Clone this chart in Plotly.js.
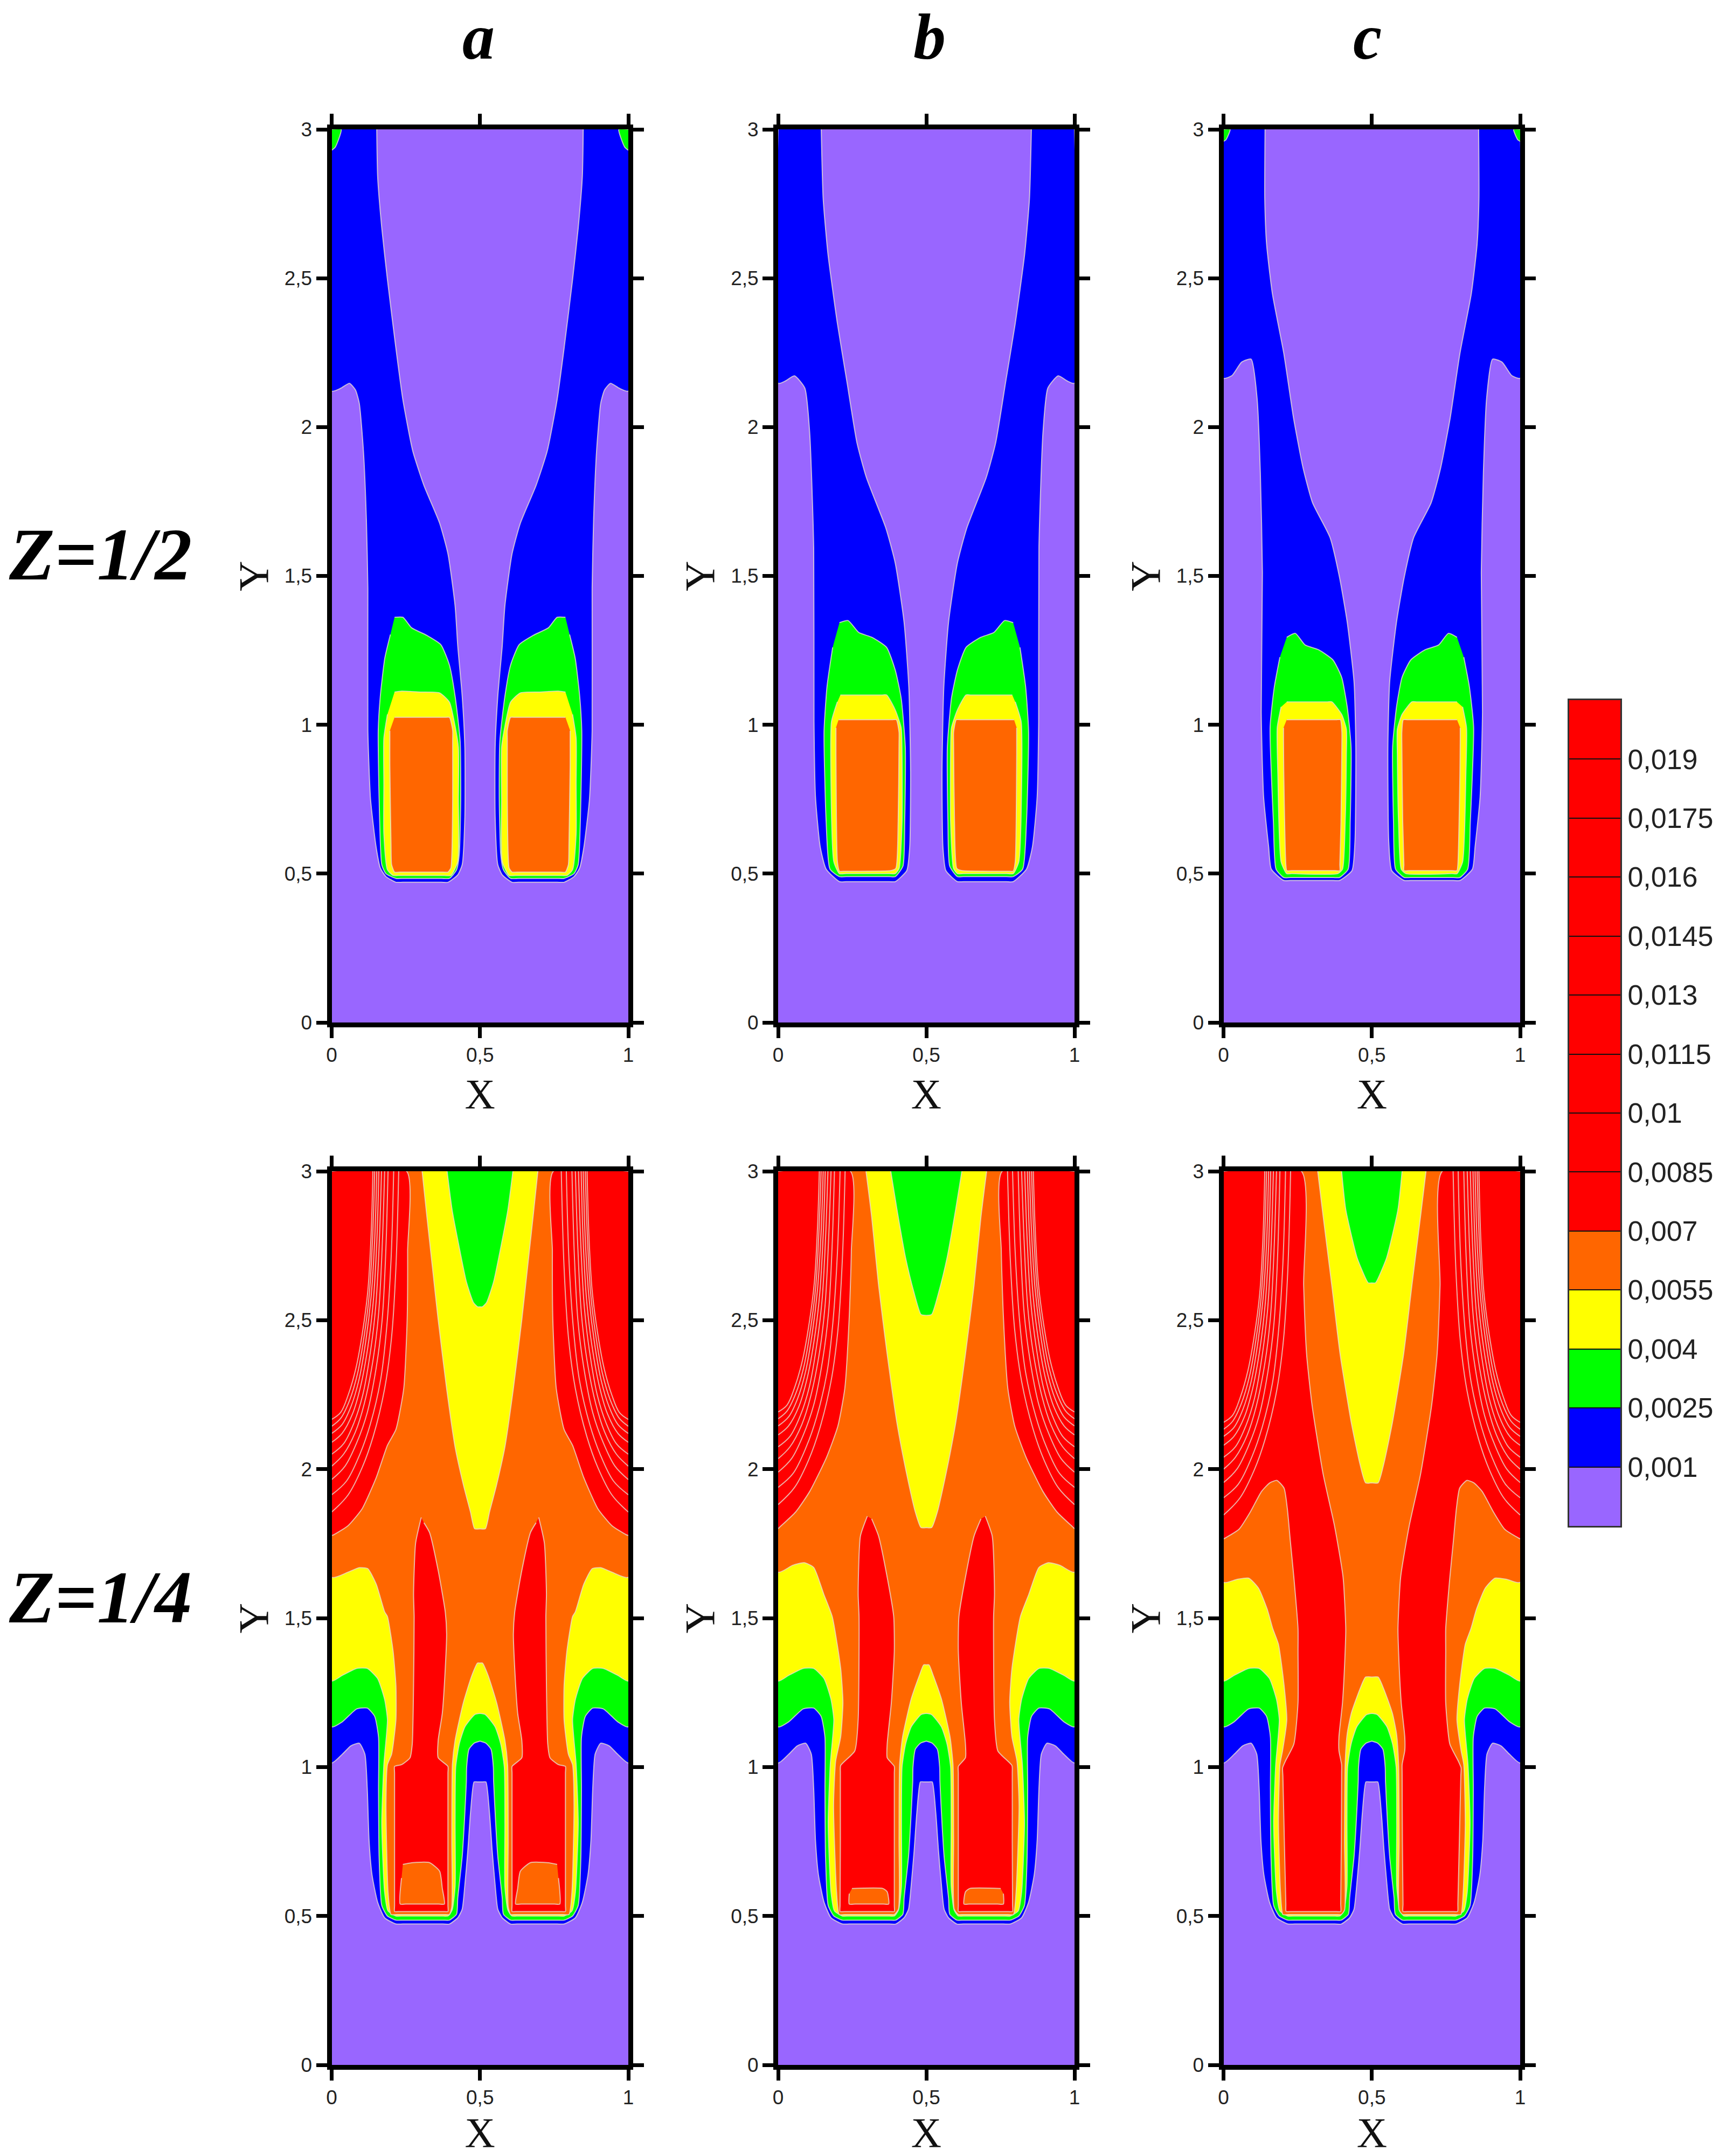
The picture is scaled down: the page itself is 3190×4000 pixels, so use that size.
<!DOCTYPE html>
<html>
<head>
<meta charset="utf-8">
<script src="https://cdn.plot.ly/plotly-3.0.1.min.js"></script>
<style>html,body{margin:0;padding:0;background:#fff}</style>
</head>
<body>
<div id="chart" style="width:3190px;height:4000px"></div>
<script>
// ---------- labels ----------
const colLabels = ['a','b','c'];
const rowLabels = ['Z=1/2','Z=1/4'];
const xTickVals = [0,0.5,1];
const xTickText = ['0','0,5','1'];
const yTickVals = [0,0.5,1,1.5,2,2.5,3];
const yTickText = ['0','0,5','1','1,5','2','2,5','3'];
const levelVals = [0.001,0.0025,0.004,0.0055,0.007,0.0085,0.01,0.0115,0.013,0.0145,0.016,0.0175,0.019];
const levelText = ['0,001','0,0025','0,004','0,0055','0,007','0,0085','0,01','0,0115','0,013','0,0145','0,016','0,0175','0,019'];
const bandLow  = [-0.0005,0.001,0.0025,0.004,0.0055,0.007];
const bandHigh = [0.001,0.0025,0.004,0.0055,0.007,0.0205];
const bandColor = ['#9966ff','#0000ff','#00ff00','#ffff00','#ff6600','#ff0000'];

// ---------- Z=1/2 : level outlines of the left jet, [x,y] ----------
const z2aBlue = [[0,3],[0,2.121],[.03,2.13],[.06,2.147],[.08,2.125],[.093,2.08],[.107,1.92],[.117,1.69],[.122,1.459],[.122,.98],[.131,.75],[.15,.588],[.164,.519],[.183,.49],[.2165,.471],[.24,.471],[.37,.471],[.392,.471],[.425,.496],[.44,.53],[.449,.692],[.449,.923],[.44,1.096],[.425,1.265],[.416,1.4],[.392,1.574],[.364,1.677],[.311,1.804],[.2735,1.919],[.24,2.092],[.2165,2.265],[.188,2.495],[.169,2.668],[.155,2.841],[.152,3]];
const z2aGreen = [[.212,1.361],[.24,1.361],[.269,1.326],[.321,1.3],[.368,1.269],[.397,1.2],[.416,1.096],[.433,.946],[.435,.75],[.43,.565],[.421,.513],[.397,.484],[.37,.484],[.24,.484],[.2165,.484],[.183,.5],[.169,.53],[.16,.75],[.157,.98],[.164,1.096],[.179,1.223],[.198,1.303]];
const z2aYellow = [[.212,1.11],[.236,1.113],[.3,1.11],[.364,1.107],[.397,1.076],[.416,.995],[.427,.925],[.427,.75],[.425,.54],[.402,.494],[.38,.494],[.23,.494],[.207,.494],[.188,.513],[.176,.634],[.176,.8],[.176,.955],[.188,1.035]];
const z2aOrange = [[.212,1.025],[.23,1.025],[.38,1.025],[.397,1.025],[.408,.98],[.408,.95],[.408,.75],[.405,.56],[.402,.519],[.392,.505],[.375,.505],[.23,.505],[.212,.505],[.202,.53],[.2,.6],[.196,.865],[.196,.95],[.196,.98]];
const z2aCorner = [[0,3],[.032,3],[.012,2.94],[0,2.93]];

const z2bBlue = [[0,3],[0,2.147],[.025,2.155],[.055,2.172],[.09,2.131],[.1065,1.98],[.12,1.595],[.121,1.009],[.126,.758],[.142,.59],[.162,.515],[.207,.473],[.23,.473],[.375,.473],[.395,.473],[.434,.51],[.444,.59],[.447,.842],[.441,1.126],[.425,1.344],[.395,1.544],[.363,1.662],[.298,1.83],[.266,1.947],[.233,2.147],[.2,2.348],[.168,2.583],[.152,2.767],[.1455,3]];
const z2bGreen = [[.207,1.343],[.236,1.35],[.272,1.31],[.318,1.293],[.366,1.26],[.395,1.184],[.415,1.09],[.429,.925],[.427,.675],[.421,.525],[.395,.49],[.375,.49],[.23,.49],[.207,.49],[.175,.515],[.162,.675],[.155,.978],[.165,1.128],[.184,1.26]];
const z2bYellow = [[.21,1.1],[.23,1.1],[.35,1.1],[.366,1.1],[.395,1.05],[.415,.99],[.418,.9],[.418,.675],[.408,.517],[.395,.5],[.375,.5],[.23,.5],[.207,.5],[.188,.54],[.178,.84],[.18,1.01],[.2,1.077]];
const z2bOrange = [[.204,1.017],[.22,1.017],[.385,1.017],[.399,1.017],[.408,.975],[.408,.94],[.405,.675],[.397,.517],[.38,.51],[.225,.508],[.207,.508],[.2,.54],[.195,.9],[.195,.99]];

const z2cBlue = [[0,3],[0,2.164],[.0285,2.173],[.061,2.218],[.093,2.228],[.113,2.097],[.124,1.846],[.131,1.511],[.127,1.043],[.135,.758],[.152,.59],[.161,.515],[.203,.477],[.225,.477],[.37,.477],[.391,.477],[.433,.51],[.443,.607],[.446,.925],[.44,1.143],[.417,1.344],[.391,1.495],[.359,1.629],[.3,1.746],[.268,1.863],[.236,2.03],[.203,2.248],[.1645,2.449],[.145,2.616],[.139,2.767],[.14,3]];
const z2cGreen = [[.213,1.294],[.242,1.307],[.275,1.268],[.32,1.252],[.3685,1.218],[.398,1.16],[.417,1.059],[.43,.925],[.427,.675],[.42,.515],[.391,.487],[.37,.487],[.225,.487],[.203,.487],[.177,.515],[.168,.675],[.157,.992],[.171,1.126],[.19,1.227]];
const z2cYellow = [[.213,1.077],[.23,1.077],[.35,1.077],[.365,1.077],[.398,1.035],[.414,.985],[.414,.9],[.41,.675],[.401,.515],[.385,.5],[.23,.5],[.213,.5],[.194,.54],[.183,.84],[.181,.99],[.194,1.06]];
const z2cOrange = [[.213,1.017],[.23,1.017],[.38,1.017],[.394,1.017],[.399,.975],[.399,.94],[.396,.675],[.392,.53],[.392,.51],[.375,.51],[.23,.51],[.213,.51],[.21,.53],[.203,.84],[.202,.95],[.202,.99]];
const z2cCorner = [[0,3],[.022,3],[.008,2.965],[0,2.96]];

// ---------- Z=1/4 : outlines from the wall to the mid-plane, [x,y] ----------
const z4Blue = [[0,3],[0,1.014],[.036,1.043],[.0646,1.071],[.093,1.08],[.112,1.043],[.12,.927],[.126,.754],[.136,.638],[.155,.546],[.1785,.494],[.2165,.473],[.24,.473],[.375,.473],[.397,.473],[.425,.494],[.44,.523],[.449,.604],[.459,.72],[.468,.846],[.48,.95],[.49,.95],[.5,.95]];
const z4Green = [[0,3],[0,1.135],[.036,1.152],[.084,1.195],[.12,1.198],[.145,1.17],[.158,1.1],[.158,.927],[.16,.696],[.169,.535],[.188,.5],[.2165,.486],[.24,.486],[.375,.486],[.397,.486],[.421,.506],[.425,.56],[.44,.7],[.447,.81],[.454,.95],[.455,1],[.463,1.06],[.48,1.08],[.5,1.087]];
const z4Yellow = [[0,3],[0,1.289],[.036,1.308],[.084,1.331],[.12,1.331],[.155,1.297],[.1785,1.227],[.188,1.158],[.176,1.008],[.169,.81],[.1785,.58],[.19,.517],[.2165,.5],[.24,.5],[.37,.5],[.392,.5],[.406,.52],[.416,.6],[.416,.81],[.418,1],[.43,1.077],[.449,1.135],[.482,1.176],[.5,1.18]];

const z4aOrange = [[0,3],[0,1.637],[.055,1.654],[.093,1.669],[.1215,1.666],[.15,1.614],[.1785,1.521],[.188,1.505],[.207,1.389],[.2165,1.274],[.2165,1.158],[.202,1.043],[.188,1.008],[.183,.87],[.19,.58],[.2,.505],[.22,.505],[.38,.505],[.397,.505],[.405,.53],[.405,.754],[.407,1.008],[.416,1.089],[.444,1.216],[.473,1.308],[.492,1.349],[.5,1.349]];
const z4aWedgeYellow = [[.305,3],[.321,2.848],[.34,2.675],[.359,2.502],[.3875,2.271],[.416,2.075],[.444,1.948],[.468,1.856],[.482,1.8],[.5,1.8]];
const z4aWedgeGreen = [[.389,3],[.406,2.87],[.43,2.744],[.454,2.629],[.478,2.559],[.492,2.545],[.5,2.545]];
const z4aRed = [[0,3],[.2526,3],[.256,2.732],[.2545,2.502],[.243,2.271],[.2165,2.133],[.188,2.08],[.15,1.971],[.1026,1.867],[.055,1.81],[.0076,1.78],[0,1.777]];
const z4aInnerRed = [[.302,1.838],[.283,1.752],[.276,1.58],[.278,1.505],[.276,1.274],[.2716,1.077],[.264,1.031],[.2355,1.008],[.212,1.002],[.212,.98],[.212,.75],[.212,.535],[.212,.515],[.23,.515],[.375,.515],[.392,.515],[.392,.535],[.392,.75],[.392,.98],[.392,1.002],[.359,1.031],[.359,1.089],[.373,1.181],[.383,1.332],[.3875,1.447],[.383,1.52],[.359,1.66],[.33,1.787],[.311,1.82]];
const z4aPatch = [[.24,.673],[.273,.679],[.33,.679],[.364,.65],[.373,.592],[.38,.54],[.36,.54],[.25,.54],[.231,.54],[.2355,.627]];

const z4bOrange = [[0,3],[0,1.654],[.049,1.677],[.0875,1.686],[.12,1.67],[.154,1.58],[.1825,1.505],[.211,1.331],[.2186,1.216],[.211,1.101],[.194,1.02],[.187,.87],[.197,.58],[.206,.505],[.225,.505],[.375,.505],[.392,.505],[.406,.523],[.408,.754],[.41,1.008],[.42,1.101],[.449,1.228],[.477,1.308],[.491,1.343],[.5,1.343]];
const z4bWedgeYellow = [[.2966,3],[.3156,2.848],[.339,2.617],[.368,2.386],[.401,2.155],[.434,1.983],[.463,1.856],[.482,1.804],[.5,1.804]];
const z4bWedgeGreen = [[.38,3],[.401,2.871],[.43,2.709],[.458,2.594],[.482,2.519],[.5,2.516]];
const z4bRed = [[0,3],[.244,3],[.247,2.732],[.2395,2.502],[.225,2.271],[.2015,2.144],[.1635,2.04],[.1065,1.925],[.059,1.856],[.004,1.804],[0,1.8]];
const z4bInnerRed = [[.301,1.842],[.2776,1.775],[.27,1.58],[.273,1.505],[.27,1.158],[.2586,1.054],[.211,1.005],[.21,.98],[.21,.75],[.209,.535],[.209,.515],[.23,.515],[.375,.515],[.392,.515],[.392,.535],[.392,.75],[.392,.98],[.392,1.002],[.368,1.031],[.368,1.077],[.382,1.216],[.392,1.389],[.39,1.505],[.368,1.637],[.339,1.775],[.3156,1.833]];
const z4bPatch = [[.249,.592],[.354,.592],[.368,.581],[.373,.54],[.355,.54],[.26,.54],[.24,.54],[.24,.575]];

const z4cOrange = [[0,3],[0,1.62],[.045,1.63],[.085,1.634],[.118,1.6],[.147,1.53],[.166,1.464],[.185,1.412],[.204,1.274],[.213,1.158],[.199,1.055],[.19,1.008],[.185,.81],[.192,.58],[.2,.505],[.22,.505],[.38,.505],[.397,.505],[.408,.52],[.408,.75],[.41,1.008],[.417,1.112],[.431,1.181],[.46,1.262],[.479,1.302],[.5,1.302]];
const z4cWedgeYellow = [[.3175,3],[.336,2.848],[.365,2.617],[.393,2.386],[.431,2.155],[.46,2.017],[.479,1.954],[.5,1.954]];
const z4cWedgeGreen = [[.398,3],[.412,2.871],[.45,2.71],[.479,2.64],[.488,2.625],[.5,2.625]];
const z4cRed = [[0,3],[.2626,3],[.27,2.617],[.28,2.386],[.2986,2.213],[.336,1.982],[.374,1.81],[.403,1.637],[.412,1.464],[.41,1.389],[.401,1.216],[.389,1.101],[.389,1.055],[.398,1.008],[.398,.98],[.397,.75],[.395,.54],[.395,.515],[.375,.515],[.23,.515],[.211,.515],[.21,.54],[.205,.75],[.2,.97],[.199,.997],[.2085,1.02],[.237,1.077],[.251,1.216],[.251,1.389],[.251,1.464],[.237,1.637],[.225,1.76],[.215,1.867],[.204,1.936],[.18,1.962],[.156,1.954],[.128,1.925],[.09,1.856],[.052,1.798],[.0076,1.77],[0,1.766]];

// iso-lines inside the red zone
const isoLine0 = [[0,1.856],[.055,1.913],[.103,2.006],[.14,2.11],[.1785,2.27],[.202,2.444],[.2165,2.675],[.226,3]];
const isoLine1 = [[0,1.914],[.05,1.96],[.095,2.05],[.13,2.15],[.165,2.3],[.185,2.47],[.2,2.7],[.209,3]];
const isoLine2 = [[0,1.965],[.045,2.01],[.085,2.09],[.12,2.19],[.15,2.34],[.17,2.5],[.182,2.72],[.19,3]];
const isoLine3 = [[0,2.01],[.04,2.05],[.08,2.125],[.11,2.22],[.14,2.37],[.158,2.52],[.17,2.74],[.1785,3]];
const isoLine4 = [[0,2.05],[.04,2.085],[.075,2.155],[.105,2.25],[.13,2.39],[.148,2.54],[.16,2.75],[.168,3]];
const isoLine5 = [[0,2.09],[.035,2.12],[.07,2.185],[.098,2.28],[.122,2.41],[.14,2.56],[.152,2.76],[.159,3]];
const isoLine6 = [[0,2.12],[.035,2.15],[.065,2.21],[.092,2.3],[.115,2.43],[.133,2.58],[.145,2.77],[.152,3]];
const isoLine7 = [[0,2.144],[.03,2.17],[.06,2.23],[.087,2.32],[.11,2.45],[.127,2.59],[.138,2.78],[.145,3]];
const isoLine8 = [[0,2.167],[.03,2.19],[.056,2.25],[.082,2.34],[.104,2.46],[.122,2.6],[.133,2.79],[.139,3]];
const isoLines = [isoLine0,isoLine1,isoLine2,isoLine3,isoLine4,isoLine5,isoLine6,isoLine7,isoLine8];
const isoShift = [0,0.025,-0.01];

// ---------- helpers ----------
const C = {blue:'#0000ff',green:'#00ff00',yellow:'#ffff00',orange:'#ff6600',red:'#ff0000'};
const EDGE = 'rgba(232,222,210,0.78)';
const W = 3190, H = 4000;
const mirror = p => p.map(q => [1-q[0],q[1]]);
const sym = half => half.concat(mirror(half).reverse());
const traces = [];
function poly(p,color,n){
  traces.push({type:'scatter',mode:'lines',x:p.map(q=>q[0]),y:p.map(q=>q[1]),fill:'toself',fillcolor:color,
    line:{color:EDGE,width:2,shape:'spline',smoothing:0.55},hoverinfo:'skip',showlegend:false,xaxis:'x'+n,yaxis:'y'+n});
}
const both = (p,color,n) => { poly(p,color,n); poly(mirror(p),color,n); };

const topPanels = [
 {b:z2aBlue,g:z2aGreen,y:z2aYellow,o:z2aOrange,c:z2aCorner},
 {b:z2bBlue,g:z2bGreen,y:z2bYellow,o:z2bOrange,c:null},
 {b:z2cBlue,g:z2cGreen,y:z2cYellow,o:z2cOrange,c:z2cCorner}];
const lowPanels = [
 {o:z4aOrange,wy:z4aWedgeYellow,wg:z4aWedgeGreen,r:z4aRed,ir:z4aInnerRed,p:z4aPatch},
 {o:z4bOrange,wy:z4bWedgeYellow,wg:z4bWedgeGreen,r:z4bRed,ir:z4bInnerRed,p:z4bPatch},
 {o:z4cOrange,wy:z4cWedgeYellow,wg:z4cWedgeGreen,r:z4cRed,ir:null,p:null}];

topPanels.forEach((d,i)=>{
  const n=i+1;
  both(d.b,C.blue,n);
  if(d.c) both(d.c,C.green,n);
  both(d.g,C.green,n); both(d.y,C.yellow,n); both(d.o,C.orange,n);
});
lowPanels.forEach((d,i)=>{
  const n=i+4;
  poly(sym(z4Blue),C.blue,n); poly(sym(z4Green),C.green,n); poly(sym(z4Yellow),C.yellow,n);
  poly(sym(d.o),C.orange,n); poly(sym(d.wy),C.yellow,n); poly(sym(d.wg),C.green,n);
  both(d.r,C.red,n);
  if(d.ir) both(d.ir,C.red,n);
  if(d.p) both(d.p,C.orange,n);
  isoLines.forEach(l=>{
    const s=l.map(q=>[q[0],q[1]+(q[1]<3?isoShift[i]:0)]);
    [s,mirror(s)].forEach(pp=>traces.push({type:'scatter',mode:'lines',x:pp.map(q=>q[0]),y:pp.map(q=>q[1]),
      line:{color:EDGE,width:2,shape:'spline'},hoverinfo:'skip',showlegend:false,xaxis:'x'+n,yaxis:'y'+n}));
  });
});
// colour scale
bandLow.forEach((lo,i)=>traces.push({type:'bar',x:[0.5],y:[bandHigh[i]-lo],base:[lo],width:[1],
  marker:{color:bandColor[i],line:{width:0}},hoverinfo:'skip',showlegend:false,xaxis:'x7',yaxis:'y7'}));

// ---------- layout ----------
const panelX = [[615.5,1166],[1444,1994],[2270.6,2821]];
const panelY = [[240,1897],[2173,3831]];
const layout = {width:W,height:H,margin:{l:0,r:0,t:0,b:0},paper_bgcolor:'#fff',plot_bgcolor:'#9966ff',
  barmode:'overlay',showlegend:false,annotations:[]};
const tickFont = {family:'Liberation Sans, Arial, sans-serif',size:37,color:'#222'};
const titleFont = {family:'Liberation Serif, Times New Roman, serif',size:78,color:'#111'};
panelY.forEach((py,r)=>panelX.forEach((px,c)=>{
  const n=r*3+c+1;
  const common = {showline:true,linewidth:9,linecolor:'#000',mirror:'ticks',ticks:'outside',ticklen:20,tickwidth:7,tickcolor:'#000',
    showgrid:false,zeroline:false,tickfont:tickFont,fixedrange:true};
  layout['xaxis'+n]=Object.assign({},common,{domain:[px[0]/W,px[1]/W],range:[0,1],anchor:'y'+n,tickmode:'array',tickvals:xTickVals,ticktext:xTickText,
    title:{text:'X',font:titleFont,standoff:27}});
  layout['yaxis'+n]=Object.assign({},common,{domain:[1-py[1]/H,1-py[0]/H],range:[0,3],anchor:'x'+n,tickmode:'array',tickvals:yTickVals,ticktext:yTickText,
    title:{text:'Y',font:titleFont,standoff:8}});
}));
layout.xaxis7={domain:[2912/W,3007/W],range:[0,1],anchor:'y7',showline:true,linewidth:3,linecolor:'#333',mirror:true,ticks:'',showticklabels:false,showgrid:false,zeroline:false,fixedrange:true};
layout.yaxis7={domain:[1-2831/H,1-1299/H],range:[-0.0005,0.0205],anchor:'x7',side:'right',showline:true,linewidth:3,linecolor:'#333',mirror:true,
  ticks:'inside',ticklen:95,tickwidth:2,tickcolor:'#111',tickmode:'array',tickvals:levelVals,ticktext:levelText,
  showgrid:false,zeroline:false,fixedrange:true,tickfont:{family:'Liberation Sans, Arial, sans-serif',size:52,color:'#222'}};

const colCenter = [888,1725,2537];
colLabels.forEach((t,i)=>layout.annotations.push({xref:'paper',yref:'paper',x:colCenter[i]/W,y:1-68/H,xanchor:'center',yanchor:'middle',
  showarrow:false,text:'<b><i>'+t+'</i></b>',font:{family:'Liberation Serif, Times New Roman, serif',size:120,color:'#000'}}));
const rowCenter = [1028,2963];
rowLabels.forEach((t,i)=>layout.annotations.push({xref:'paper',yref:'paper',x:14/W,y:1-rowCenter[i]/H,xanchor:'left',yanchor:'middle',
  showarrow:false,text:'<b><i>'+t+'</i></b>',font:{family:'Liberation Serif, Times New Roman, serif',size:138,color:'#000'}}));

Plotly.newPlot('chart',traces,layout,{staticPlot:true,displayModeBar:false});
</script>
</body>
</html>
